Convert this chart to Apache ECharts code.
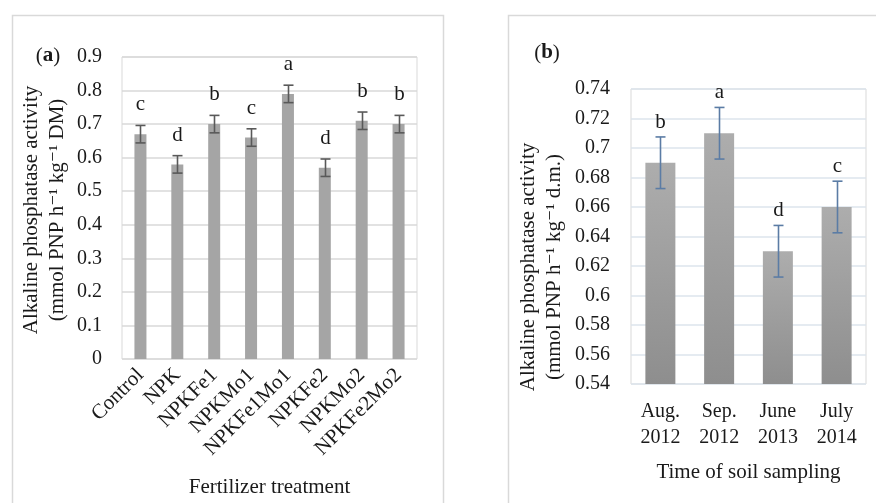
<!DOCTYPE html>
<html lang="en">
<head>
    <meta charset="UTF-8">
    <title>Alkaline phosphatase activity</title>
    <script src="https://cdn.jsdelivr.net/npm/echarts@6/dist/echarts.min.js"></script>
    <style>
        html, body { margin: 0; padding: 0; background: #fff; }
        #chart { width: 876px; height: 503px; }
    </style>
</head>
<body>
<div id="chart"></div>
<script type="text/javascript">
    // (a) fertilizer treatments
    var treatments = ['Control', 'NPK', 'NPKFe1', 'NPKMo1', 'NPKFe1Mo1', 'NPKFe2', 'NPKMo2', 'NPKFe2Mo2'];
    var activityA = [0.67, 0.58, 0.70, 0.66, 0.79, 0.57, 0.71, 0.70];
    var errorA = [0.026, 0.026, 0.026, 0.026, 0.026, 0.026, 0.026, 0.026];
    var lettersA = ['c', 'd', 'b', 'c', 'a', 'd', 'b', 'b'];

    // (b) time of soil sampling
    var samplings = ['Aug.\n2012', 'Sep.\n2012', 'June\n2013', 'July\n2014'];
    var activityB = [0.69, 0.71, 0.63, 0.66];
    var errorB = [0.0175, 0.0175, 0.0175, 0.0175];
    var lettersB = ['b', 'a', 'd', 'c'];

    var serif = '"Liberation Serif", "DejaVu Serif", serif';
    var txt = '#1a1a1a';

    function errData(vals, errs, letters) {
        var out = [];
        for (var i = 0; i < vals.length; i++) {
            out.push([i, vals[i] - errs[i], vals[i] + errs[i], letters[i]]);
        }
        return out;
    }

    //误差线 + 字母标记
    function errRender(color, lift) {
        return function (params, api) {
            var lo = api.coord([api.value(0), api.value(1)]);
            var hi = api.coord([api.value(0), api.value(2)]);
            var x = Math.round(hi[0]) + 0.5;
            var st = { stroke: color, lineWidth: 1.6 };
            return {
                type: 'group',
                children: [
                    { type: 'line', shape: { x1: x, y1: hi[1], x2: x, y2: lo[1] }, style: st },
                    { type: 'line', shape: { x1: x - 5, y1: hi[1], x2: x + 5, y2: hi[1] }, style: st },
                    { type: 'line', shape: { x1: x - 5, y1: lo[1], x2: x + 5, y2: lo[1] }, style: st },
                    {
                        type: 'text',
                        style: {
                            x: x, y: hi[1] - lift,
                            text: api.value(3),
                            fill: txt, font: '21px ' + serif,
                            textAlign: 'center', textVerticalAlign: 'bottom'
                        }
                    }
                ]
            };
        };
    }

    var myChart = echarts.init(document.getElementById('chart'));
    var option = {
        animation: false,
        backgroundColor: '#fff',
        textStyle: { fontFamily: serif },
        grid: [
            { left: 122, top: 57, width: 295, height: 304, show: true, borderColor: '#d9d9d9', borderWidth: 1, containLabel: false },
            { left: 631, top: 89, width: 235, height: 295, show: true, borderColor: '#d9d9d9', borderWidth: 1, containLabel: false }
        ],
        xAxis: [
            {
                gridIndex: 0, type: 'category', data: treatments,
                axisLine: { show: false }, axisTick: { show: false },
                axisLabel: { interval: 0, rotate: 45, margin: 13, fontSize: 21, color: txt, fontFamily: serif },
                name: 'Fertilizer treatment', nameLocation: 'middle', nameGap: 118,
                nameTextStyle: { fontSize: 21, color: txt, fontFamily: serif }
            },
            {
                gridIndex: 1, type: 'category', data: samplings,
                axisLine: { show: false }, axisTick: { show: false },
                axisLabel: { interval: 0, margin: 15, fontSize: 20, lineHeight: 26, color: txt, fontFamily: serif },
                name: 'Time of soil sampling', nameLocation: 'middle', nameGap: 78,
                nameTextStyle: { fontSize: 21, color: txt, fontFamily: serif }
            }
        ],
        yAxis: [
            {
                gridIndex: 0, type: 'value', min: 0, max: 0.9, interval: 0.1,
                axisLine: { show: false }, axisTick: { show: false },
                axisLabel: { margin: 20, fontSize: 20, color: txt, fontFamily: serif },
                splitLine: { lineStyle: { color: '#d9d9d9', width: 1.5 } }
            },
            {
                gridIndex: 1, type: 'value', min: 0.54, max: 0.74, interval: 0.02,
                axisLine: { show: false }, axisTick: { show: false },
                axisLabel: { margin: 21, fontSize: 20, color: txt, fontFamily: serif },
                splitLine: { lineStyle: { color: '#dde4ec', width: 1.5 } }
            }
        ],
        series: [
            {
                type: 'bar', xAxisIndex: 0, yAxisIndex: 0, data: activityA, barWidth: 12,
                itemStyle: { color: '#a5a5a5' }
            },
            {
                type: 'custom', xAxisIndex: 0, yAxisIndex: 0, z: 5,
                data: errData(activityA, errorA, lettersA),
                renderItem: errRender('#595959', 10)
            },
            {
                type: 'bar', xAxisIndex: 1, yAxisIndex: 1, data: activityB, barWidth: 30,
                itemStyle: {
                    color: new echarts.graphic.LinearGradient(0, 0, 0, 1, [
                        { offset: 0, color: '#adadad' },
                        { offset: 1, color: '#8e8e8e' }
                    ])
                }
            },
            {
                type: 'custom', xAxisIndex: 1, yAxisIndex: 1, z: 5,
                data: errData(activityB, errorB, lettersB),
                renderItem: errRender('#5b7ca5', 4)
            }
        ],
        graphic: [
            { type: 'rect', shape: { x: 12.5, y: 15.5, width: 431, height: 520 }, style: { fill: 'none', stroke: '#d9d9d9', lineWidth: 1.5 }, z: -1 },
            { type: 'rect', shape: { x: 508.5, y: 15.5, width: 400, height: 520 }, style: { fill: 'none', stroke: '#d9d9d9', lineWidth: 1.5 }, z: -1 },
            {
                type: 'text', x: 48, y: 56,
                style: {
                    text: '({b|a})', fill: txt, font: '21px ' + serif,
                    textAlign: 'center', textVerticalAlign: 'middle',
                    rich: { b: { fontWeight: 'bold', fontSize: 21, fontFamily: serif, fill: txt } }
                }
            },
            {
                type: 'text', x: 547, y: 53,
                style: {
                    text: '({b|b})', fill: txt, font: '21px ' + serif,
                    textAlign: 'center', textVerticalAlign: 'middle',
                    rich: { b: { fontWeight: 'bold', fontSize: 21, fontFamily: serif, fill: txt } }
                }
            },
            {
                type: 'text', x: 44, y: 210, rotation: Math.PI / 2,
                style: {
                    text: 'Alkaline phosphatase activity\n(mmol PNP h⁻¹ kg⁻¹ DM)',
                    fill: txt, font: '21px ' + serif, lineHeight: 26,
                    textAlign: 'center', textVerticalAlign: 'middle'
                }
            },
            {
                type: 'text', x: 541, y: 267, rotation: Math.PI / 2,
                style: {
                    text: 'Alkaline phosphatase activity\n(mmol PNP h⁻¹ kg⁻¹ d.m.)',
                    fill: txt, font: '21px ' + serif, lineHeight: 26,
                    textAlign: 'center', textVerticalAlign: 'middle'
                }
            }
        ]
    };
    myChart.setOption(option);
</script>
</body>
</html>
